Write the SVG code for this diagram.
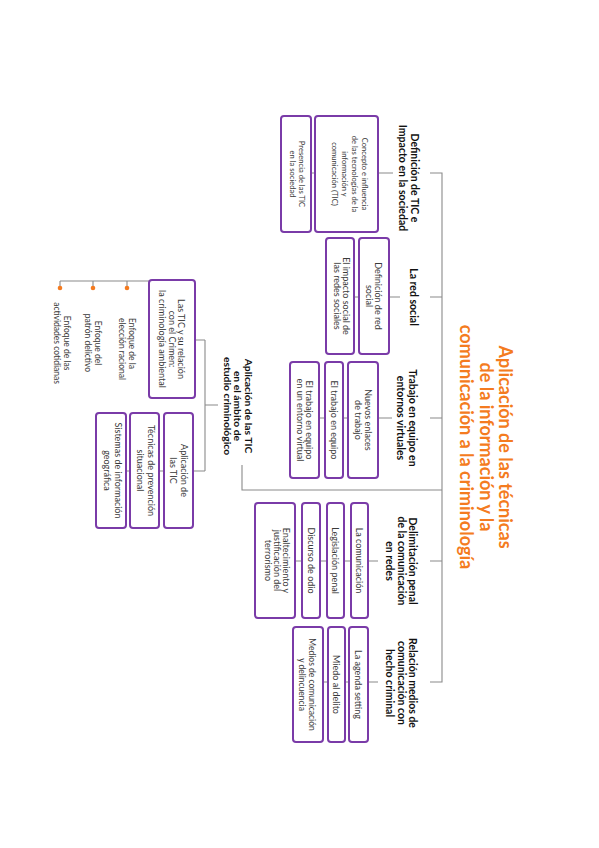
<svg xmlns="http://www.w3.org/2000/svg" width="599" height="848" viewBox="0 0 599 848">
<style>
.bg{fill:#fff}
.box{fill:#fff;stroke:#7A3BA8;stroke-width:2}
.conn{fill:none;stroke:#8a8a8a;stroke-width:1.1}
.dot{fill:#F47B20}
text{font-family:Lato,"Liberation Sans",sans-serif;text-anchor:middle}
.bt{fill:#3a3a3a;font-size:9px}
.lbl{fill:#111;font-weight:bold;font-size:10.5px}
.title{fill:#F47B20;font-weight:bold;font-size:18px}
.enf{fill:#3a3a3a;font-size:8.5px}
</style>
<rect class="bg" width="599" height="848"/>
<g transform="translate(599,0) rotate(90)">
  <g id="connectors">
    <path class="conn" d="M173,169 V157 H682 V169 M297,157 V169 M418,157 V169 M561,157 V169"/>
    <path class="conn" d="M490,157 V357 H465"/>
    <path class="conn" d="M173,206 V221 M173,284 V288"/>
    <path class="conn" d="M297,199 V210 M297,240 V245"/>
    <path class="conn" d="M418,207 V221 M418,251 V256 M418,274 V280"/>
    <path class="conn" d="M561,221 V231 M561,248 V255 M561,272 V279 M561,297 V304"/>
    <path class="conn" d="M682,221 V231 M682,250 V254 M682,271 V276"/>
    <path class="conn" d="M405,381 V394 M340,394 V404 M340,394 H471 M471,394 V406 M471,435 V440 M471,469 V473"/>
    <path class="conn" d="M281,450 V539 M281,472 H287 M281,506 H287 M281,539 H287"/>
  </g>
  <g id="title">
    <text class="title" x="447" y="100">Aplicación de las técnicas</text>
    <text class="title" x="447" y="119.5">de la información y la</text>
    <text class="title" x="447" y="139">comunicación a la criminología</text>
  </g>
  <g id="cat-definicion">
    <text class="lbl" x="178" y="187.8">Definición de TIC e</text>
    <text class="lbl" x="178" y="199.8">Impacto en la sociedad</text>
  </g>
  <g id="box-concepto">
    <rect class="box" x="116" y="221" width="116" height="63" rx="3"/>
    <text class="bt" style="font-size:7.6px" x="174" y="236.7">Concepto e influencia</text>
    <text class="bt" style="font-size:7.6px" x="174" y="246.7">de las tecnologías de la</text>
    <text class="bt" style="font-size:7.6px" x="174" y="256.7">información y</text>
    <text class="bt" style="font-size:7.6px" x="174" y="266.7">comunicación (TIC)</text>
  </g>
  <g id="box-presencia">
    <rect class="box" x="116" y="288" width="116" height="30" rx="3"/>
    <text class="bt" style="font-size:7.6px" x="174" y="300.2">Presencia de las TIC</text>
    <text class="bt" style="font-size:7.6px" x="174" y="309.4">en la sociedad</text>
  </g>
  <g id="cat-red">
    <text class="lbl" x="297" y="188.8">La red social</text>
  </g>
  <g id="box-defred">
    <rect class="box" x="238" y="210" width="116" height="30" rx="3"/>
    <text class="bt" x="296" y="223.7">Definición de red</text>
    <text class="bt" x="296" y="232.7">social</text>
  </g>
  <g id="box-impacto">
    <rect class="box" x="238" y="245" width="116" height="28" rx="3"/>
    <text class="bt" x="296" y="256.2">El impacto social de</text>
    <text class="bt" x="296" y="265.2">las redes sociales</text>
  </g>
  <g id="cat-trabajo">
    <text class="lbl" x="418" y="190.2">Trabajo en equipo en</text>
    <text class="lbl" x="418" y="201.7">entornos virtuales</text>
  </g>
  <g id="box-enlaces">
    <rect class="box" x="362" y="221" width="116" height="30" rx="3"/>
    <text class="bt" x="420" y="234.2">Nuevos enlaces</text>
    <text class="bt" x="420" y="244.2">de trabajo</text>
  </g>
  <g id="box-equipo">
    <rect class="box" x="362" y="256" width="116" height="18" rx="3"/>
    <text class="bt" x="420" y="268.2">El trabajo en equipo</text>
  </g>
  <g id="box-virtual">
    <rect class="box" x="362" y="280" width="116" height="29" rx="3"/>
    <text class="bt" x="420" y="292.7">El trabajo en equipo</text>
    <text class="bt" x="420" y="301.7">en un entorno virtual</text>
  </g>
  <g id="cat-delimitacion">
    <text class="lbl" x="561" y="189.7">Delimitación penal</text>
    <text class="lbl" x="561" y="201.2">de la comunicación</text>
    <text class="lbl" x="561" y="212.7">en redes</text>
  </g>
  <g id="box-comunicacion">
    <rect class="box" x="503" y="231" width="115" height="17" rx="3"/>
    <text class="bt" x="560.5" y="242.7">La comunicación</text>
  </g>
  <g id="box-legislacion">
    <rect class="box" x="503" y="255" width="115" height="17" rx="3"/>
    <text class="bt" x="560.5" y="266.7">Legislación penal</text>
  </g>
  <g id="box-odio">
    <rect class="box" x="503" y="279" width="115" height="18" rx="3"/>
    <text class="bt" x="560.5" y="291.2">Discurso de odio</text>
  </g>
  <g id="box-terrorismo">
    <rect class="box" x="503" y="304" width="115" height="40" rx="3"/>
    <text class="bt" x="560.5" y="316.2">Enaltecimiento y</text>
    <text class="bt" x="560.5" y="325.2">justificación del</text>
    <text class="bt" x="560.5" y="334.2">terrorismo</text>
  </g>
  <g id="cat-relacion">
    <text class="lbl" x="683" y="189.7">Relación medios de</text>
    <text class="lbl" x="683" y="201.2">comunicación con</text>
    <text class="lbl" x="683" y="212.7">hecho criminal</text>
  </g>
  <g id="box-agenda">
    <rect class="box" x="627" y="231" width="115" height="19" rx="3"/>
    <text class="bt" x="684.5" y="243.7">La agenda setting</text>
  </g>
  <g id="box-miedo">
    <rect class="box" x="627" y="254" width="115" height="17" rx="3"/>
    <text class="bt" x="684.5" y="265.7">Miedo al delito</text>
  </g>
  <g id="box-medios">
    <rect class="box" x="627" y="276" width="115" height="30" rx="3"/>
    <text class="bt" style="font-size:8.5px" x="684.5" y="290.2">Medios de comunicación</text>
    <text class="bt" style="font-size:8.5px" x="684.5" y="300.2">y delincuencia</text>
  </g>
  <g id="cat-aplicacion">
    <text class="lbl" style="font-size:10.3px" x="406" y="354.1">Aplicación de las TIC</text>
    <text class="lbl" style="font-size:10.3px" x="406" y="364.6">en el ámbito de</text>
    <text class="lbl" style="font-size:10.3px" x="406" y="375.1">estudio criminológico</text>
  </g>
  <g id="box-crimen">
    <rect class="box" x="280" y="404" width="118" height="46" rx="3"/>
    <text class="bt" x="339" y="420.7">Las TIC y su relación</text>
    <text class="bt" x="339" y="430.2">con el Crimen:</text>
    <text class="bt" x="339" y="439.7">la criminología ambiental</text>
  </g>
  <g id="box-aplic">
    <rect class="box" x="413" y="406" width="115" height="29" rx="3"/>
    <text class="bt" x="470.5" y="418.2">Aplicación de</text>
    <text class="bt" x="470.5" y="429.2">las TIC</text>
  </g>
  <g id="box-tecnicas">
    <rect class="box" x="413" y="440" width="115" height="29" rx="3"/>
    <text class="bt" x="470.5" y="451.2">Técnicas de prevención</text>
    <text class="bt" x="470.5" y="462.2">situacional</text>
  </g>
  <g id="box-sistemas">
    <rect class="box" x="413" y="473" width="115" height="30" rx="3"/>
    <text class="bt" x="470.5" y="484.2">Sistemas de información</text>
    <text class="bt" x="470.5" y="495.2">geográfica</text>
  </g>
  <g id="enfoque-racional">
    <circle class="dot" cx="288" cy="472" r="2.3"/>
    <text class="enf" style="text-anchor:start" x="318" y="470">Enfoque de la</text>
    <text class="enf" style="text-anchor:start" x="318" y="480.2">elección racional</text>
  </g>
  <g id="enfoque-patron">
    <circle class="dot" cx="288" cy="506" r="2.3"/>
    <text class="enf" x="343" y="504">Enfoque del</text>
    <text class="enf" x="343" y="514.2">patrón delictivo</text>
  </g>
  <g id="enfoque-cotidianas">
    <circle class="dot" cx="288" cy="539" r="2.3"/>
    <text class="enf" x="343" y="535">Enfoque de las</text>
    <text class="enf" x="343" y="545.2">actividades cotidianas</text>
  </g>
</g>
</svg>
